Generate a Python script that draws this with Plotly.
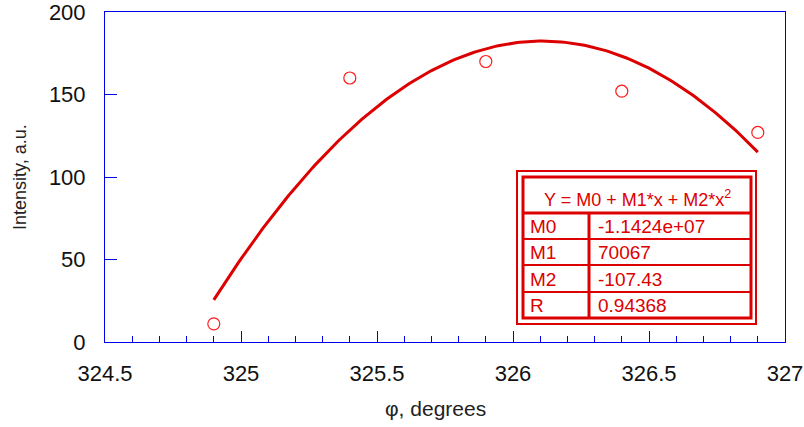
import numpy as np
import plotly.graph_objects as go

# Data
phi = [324.9, 325.4, 325.9, 326.4, 326.9]
intensity = [11, 160, 170, 152, 127]
x_ticks = [324.5, 325, 325.5, 326, 326.5, 327]
y_ticks = [0, 50, 100, 150, 200]
fit_labels = ["M0", "M1", "M2", "R"]
fit_values = ["-1.1424e+07", "70067", "-107.43", "0.94368"]
fit_title = "Y = M0 + M1*x + M2*x<sup>2</sup>"

# quadratic regression of the data (centered for numerical stability)
xc = np.mean(phi)
coef = np.polyfit(np.array(phi) - xc, intensity, 2)
xf = np.linspace(min(phi), max(phi), 200)
yf = np.polyval(coef, xf - xc)

W, H = 804, 427
L, R, T, B = 105, 19, 12, 85
PW, PH = W - L - R, H - T - B

def px(x):
    return (x - L) / PW

def py(y):
    return (H - B - y) / PH

RED = "#dd0000"
BLUE = "#0000ee"

fig = go.Figure()
fig.add_trace(go.Scatter(x=xf, y=yf, mode="lines",
                         line=dict(color=RED, width=3), hoverinfo="skip"))
fig.add_trace(go.Scatter(x=phi, y=intensity, mode="markers",
                         marker=dict(symbol="circle-open", size=12,
                                     color="#ff1a1a", line=dict(width=1.2))))

shapes = []
# outer thin frame
shapes.append(dict(type="rect", xref="paper", yref="paper",
                   x0=px(517), x1=px(756), y0=py(324), y1=py(171),
                   line=dict(color=RED, width=2), fillcolor="white", layer="above"))
# inner thick frame
shapes.append(dict(type="rect", xref="paper", yref="paper",
                   x0=px(523), x1=px(751), y0=py(318), y1=py(177),
                   line=dict(color=RED, width=3), layer="above"))
# header separator
shapes.append(dict(type="line", xref="paper", yref="paper",
                   x0=px(523), x1=px(751), y0=py(213), y1=py(213),
                   line=dict(color=RED, width=3), layer="above"))
for yy in [239, 265, 292]:
    shapes.append(dict(type="line", xref="paper", yref="paper",
                       x0=px(523), x1=px(751), y0=py(yy), y1=py(yy),
                       line=dict(color=RED, width=2), layer="above"))
shapes.append(dict(type="line", xref="paper", yref="paper",
                   x0=px(589), x1=px(589), y0=py(213), y1=py(318),
                   line=dict(color=RED, width=3), layer="above"))

ann = []
ann.append(dict(text=fit_title, xref="paper", yref="paper", x=px(637), y=py(198),
                showarrow=False, font=dict(size=18, color=RED), xanchor="center", yanchor="middle"))
row_y = [226, 252, 279, 305]
for lab, val, yy in zip(fit_labels, fit_values, row_y):
    ann.append(dict(text=lab, xref="paper", yref="paper", x=px(528), y=py(yy),
                    showarrow=False, font=dict(size=19, color=RED), xanchor="left", yanchor="middle"))
    ann.append(dict(text=val, xref="paper", yref="paper", x=px(596), y=py(yy),
                    showarrow=False, font=dict(size=19, color=RED), xanchor="left", yanchor="middle"))
ann.append(dict(text="φ, degrees", xref="paper", yref="paper", x=px(435), y=py(408),
                showarrow=False, font=dict(size=21, color="#222"), xanchor="center", yanchor="middle"))
ann.append(dict(text="Intensity, a.u.", xref="paper", yref="paper", x=px(20), y=py(177),
                showarrow=False, textangle=-90, font=dict(size=18, color="#222"),
                xanchor="center", yanchor="middle"))

fig.update_layout(
    width=W, height=H, margin=dict(l=L, r=R, t=T, b=B),
    paper_bgcolor="white", plot_bgcolor="white", showlegend=False,
    font=dict(family="Liberation Sans, Arial, sans-serif", color="#111"),
    shapes=shapes, annotations=ann,
    xaxis=dict(range=[324.5, 327], tickvals=x_ticks,
               ticktext=[f"{v:g}" for v in x_ticks],
               ticks="inside", ticklen=11, tickcolor=BLUE, tickwidth=1,
               minor=dict(dtick=0.1, tick0=324.5, ticks="inside", ticklen=6,
                          tickcolor=BLUE, tickwidth=1, showgrid=False),
               showline=True, linecolor=BLUE, linewidth=1, mirror=True,
               showgrid=False, zeroline=False, tickfont=dict(size=22),
               ticklabelstandoff=12, automargin=False, ticklabeloverflow="allow"),
    yaxis=dict(range=[0, 200], tickvals=y_ticks,
               ticks="inside", ticklen=12, tickcolor=BLUE, tickwidth=1,
               showline=True, linecolor=BLUE, linewidth=1, mirror=True,
               showgrid=False, zeroline=False, tickfont=dict(size=22),
               ticklabelstandoff=14, automargin=False, ticklabeloverflow="allow"),
)

fig.write_html("out.html", config={"displayModeBar": False},
               post_script="document.body.style.margin='0';document.body.style.overflow='hidden';")
